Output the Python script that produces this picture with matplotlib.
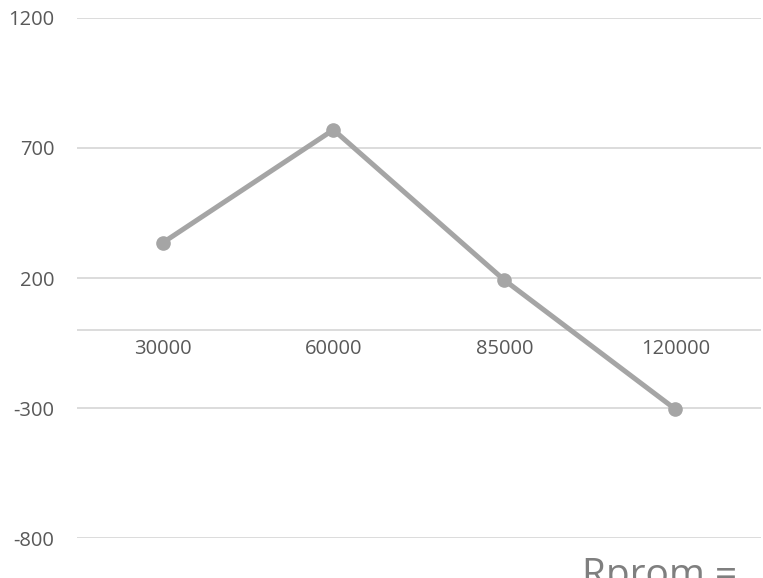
import matplotlib
matplotlib.use("Agg")
import matplotlib.pyplot as plt

# chart values
categories = ["30000", "60000", "85000", "120000"]
values = [335, 770, 192, -304]
yticks = [-800, -300, 200, 700, 1200]

plt.rcParams['font.family'] = ['Open Sans', 'DejaVu Sans']

fig = plt.figure(figsize=(7.63, 5.78), dpi=100)
ax = fig.add_axes([0.101, 0.069, 0.896, 0.900])

x = list(range(len(categories)))
ax.plot(x, values, color='#A5A5A5', linewidth=3.6, marker='o',
        markersize=9.5, markerfacecolor='#A5A5A5', markeredgecolor='#A5A5A5',
        solid_capstyle='round', zorder=3)

ax.set_xlim(-0.5, len(categories) - 0.5)
ax.set_ylim(-800, 1200)
ax.set_yticks(yticks)
ax.set_yticklabels([str(t) for t in yticks])
ax.yaxis.grid(True, color='#D9D9D9', linewidth=1.3)
ax.set_axisbelow(True)
ax.tick_params(axis='y', length=0, labelsize=14.5, labelcolor='#595959', pad=16.5)
ax.set_xticks([])
for s in ax.spines.values():
    s.set_visible(False)

# category axis crosses at y=0, labels sit below it
ax.axhline(0, color='#D9D9D9', linewidth=1.3, zorder=1)
for xi, lab in zip(x, categories):
    ax.text(xi, -35, lab, ha='center', va='top', fontsize=14.5, color='#595959')

fig.text(0.864, -0.03, "Rprom =", ha='center', va='bottom', fontsize=28,
         color='#7F7F7F')

fig.savefig("out.png", dpi=100)
